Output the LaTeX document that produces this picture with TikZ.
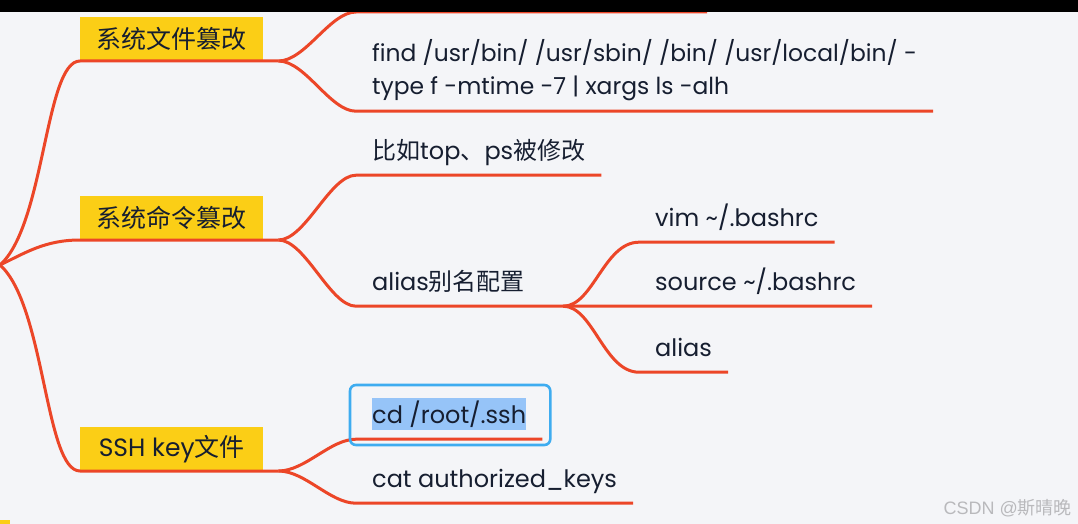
\documentclass[tikz,border=0pt]{standalone}
\usepackage{fontspec}
\setmainfont{Poppins}
\newfontfamily\cjk{Noto Sans CJK SC}
\newfontfamily\marksans{Liberation Sans}
\usetikzlibrary{positioning,calc,backgrounds}
\definecolor{MapRed}{RGB}{236,70,40}
\definecolor{TopicYellow}{RGB}{251,206,22}
\definecolor{PageGray}{RGB}{244,245,248}
\definecolor{InkNavy}{RGB}{22,30,48}
\definecolor{SelBlue}{RGB}{150,196,248}
\definecolor{FrameBlue}{RGB}{62,172,240}
\definecolor{MarkGray}{RGB}{185,185,188}
\tikzset{
  topic/.style={fill=TopicYellow,text=InkNavy,anchor=south west,inner sep=0pt,
    minimum width=183pt,minimum height=44pt,font=\cjk\fontsize{25}{30}\selectfont},
  leaf/.style={text=InkNavy,anchor=base west,inner xsep=16pt,inner ysep=0pt,
    text depth=16pt,font=\fontsize{24}{33}\selectfont},
  edge/.style={draw=MapRed,line width=3pt},
  selbox/.style={draw=FrameBlue,line width=2.6pt,rounded corners=6pt},
}

\begin{document}
\begin{tikzpicture}[x=1pt,y=-1pt]
\useasboundingbox (0,0) rectangle (1078,524);
\begin{scope}[on background layer]
\fill[PageGray] (0,0) rectangle (1078,524);
\end{scope}
\coordinate (root) at (0,265);
\coordinate (h1) at (356,12);
\coordinate (h1e) at (707,12);
\node[topic] (t1) at (80,61) {系统文件篡改};
\node[topic] (t2) at (80,240) {系统命令篡改};
\node[topic] (t3) at (80,471) {{\rmfamily SSH key}文件};
\coordinate (b1) at ($(t1.south east)+(15,0)$);
\coordinate (b2) at ($(t2.south east)+(15,0)$);
\coordinate (b3) at ($(t3.south east)+(15,0)$);
\node[leaf,align=left,font=\fontsize{23.4}{33}\selectfont] (c12) at (356,95)
  {find /usr/bin/ /usr/sbin/ /bin/ /usr/local/bin/ -\\type f -mtime -7 \textbar{} xargs ls -alh};
\node[leaf] (c21) at (356,159) {{\cjk 比如}top{\cjk 、}ps{\cjk 被修改}};
\node[leaf] (c22) at (356,290) {alias{\cjk 别名配置}};
\coordinate (b22) at ($(c22.south east)+(22,0)$);
\node[leaf] (c221) at (639,226) {vim \textasciitilde/.bashrc};
\node[leaf] (c222) at (639,290) {source \textasciitilde/.bashrc};
\node[leaf] (c223) at (639,356) {alias};
\node[leaf] (c31) at (356,423) {cd /root/.ssh};
\node[leaf] (c32) at (356,487) {cat authorized\_keys};
\begin{scope}[on background layer]
\fill[SelBlue] ($(c31.base west)+(16,-25)$) rectangle ($(c31.base east)+(-16,7)$);
\end{scope}
\draw[edge] (root) .. controls +(45,-40) and +(-35,0) .. (t1.south west) -- (b1);
\draw[edge] (root) .. controls +(25,-12) and +(-35,0) .. (t2.south west) -- (b2);
\draw[edge] (root) .. controls +(45,40) and +(-35,0) .. (t3.south west) -- (b3);
\draw[edge] (b1) .. controls +(27,0) and +(-26,0) .. (h1) -- (h1e);
\draw[edge] (b1) .. controls +(27,0) and +(-26,0) .. (c12.south west) -- (c12.south east);
\draw[edge] (b2) .. controls +(27,0) and +(-26,0) .. (c21.south west) -- (c21.south east);
\draw[edge] (b2) .. controls +(27,0) and +(-26,0) .. (c22.south west) -- (c222.south east);
\draw[edge] (b22) .. controls +(30,0) and +(-35,0) .. (c221.south west) -- (c221.south east);
\draw[edge] (b22) .. controls +(30,0) and +(-35,0) .. (c223.south west) -- (c223.south east);
\draw[edge] (b3) .. controls +(27,0) and +(-26,0) .. (c31.south west) -- (c31.south east);
\draw[edge] (b3) .. controls +(27,0) and +(-26,0) .. (c32.south west) -- (c32.south east);
\draw[selbox] ($(c31.base west)+(-6,-38)$) rectangle ($(c31.base east)+(8,22)$);
\fill[black] (0,0) rectangle (1078,12);
\fill[TopicYellow] (0,520) rectangle (10,524);
\node[anchor=base east,text=MarkGray,inner sep=0pt,font=\marksans\fontsize{18}{20}\selectfont]
  (mark) at (1072,514) {CSDN @{\cjk 斯晴晚}};
\end{tikzpicture}
\end{document}
